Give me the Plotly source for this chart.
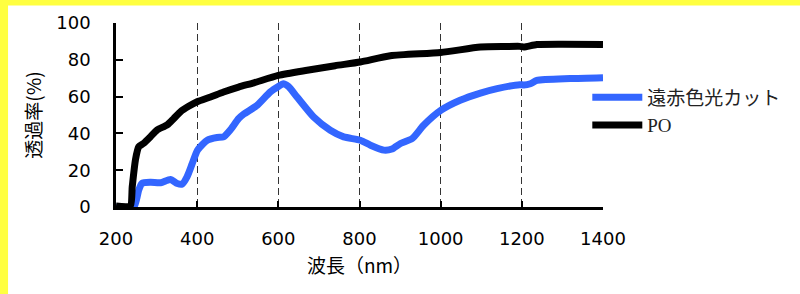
import plotly.graph_objects as go

# ---- data ----
wavelength_po = [200, 235, 240, 248, 256, 268, 285, 301, 326, 342, 359, 379, 400, 433, 465,
                 502, 540, 600, 671, 740, 802, 876, 1000, 1098, 1160, 1195, 1205, 1237, 1300, 1400]
po_values = [0.5, 0.5, 11, 25.7, 32.7, 34.6, 38.2, 41.8, 44.6, 48, 51.8, 54.7, 57.2, 59.8, 62.5,
             65.2, 67.5, 71.5, 74.3, 76.8, 78.8, 82.2, 84, 86.9, 87.2, 87.3, 86.9, 88.3, 88.5, 88.3]

wavelength_cut = [200, 244, 256, 264, 285, 310, 334, 351, 363, 375, 388, 401, 425, 449, 465,
                  482, 502, 515, 548, 580, 600, 612, 625, 646, 687, 728, 761, 802, 827, 860,
                  880, 901, 930, 958, 1001, 1048, 1098, 1139, 1195, 1205, 1221, 1237, 1319, 1400]
cut_values = [0, 0, 9.2, 12.8, 13.4, 13.2, 15, 12.8, 12.5, 16.4, 23.7, 30.9, 36.3, 37.8, 38.1,
              42, 48, 50.5, 55.3, 62.5, 65.5, 67, 65.5, 59.8, 48.9, 41.7, 38.1, 36.3, 33.6, 30.9,
              31.5, 34.5, 37.2, 44.4, 52.6, 58, 61.9, 64.3, 66.5, 66.3, 67, 68.8, 69.8, 70.3]

series_names = ["遠赤色光カット", "PO"]
x_ticks = [200, 400, 600, 800, 1000, 1200, 1400]
y_ticks = [0, 20, 40, 60, 80, 100]

fig = go.Figure()
fig.add_trace(go.Scatter(x=wavelength_cut, y=cut_values, mode="lines", name=series_names[0],
                         legendgroup="a", line=dict(color="#3366FF", width=7, shape="spline", smoothing=0.6)))
fig.add_trace(go.Scatter(x=wavelength_po, y=po_values, mode="lines", name=series_names[1],
                         legendgroup="b", line=dict(color="#000000", width=7, shape="spline", smoothing=0.6)))

sans = "DejaVu Sans, Noto Sans CJK JP, sans-serif"
cjk = "Noto Sans CJK JP, sans-serif"
L, R, T, B = 115.5, 602.7, 22.5, 207.0
W, H = 800, 294
pw, ph = R - L, B - T

def px2x(px):
    return (px - L) / pw

def py2y(py):
    return (B - py) / ph

fig.update_layout(
    width=W, height=H,
    margin=dict(l=L, r=W - R, t=T, b=H - B, pad=0, autoexpand=False),
    paper_bgcolor="white", plot_bgcolor="white",
    font=dict(family=sans, size=18, color="black"),
    showlegend=True,
    legend=dict(x=px2x(587), y=py2y(78), xanchor="left", yanchor="top",
                font=dict(family="Liberation Serif, Noto Sans CJK JP, serif", size=19, color="#222"),
                bgcolor="rgba(0,0,0,0)", traceorder="grouped", tracegroupgap=0, itemwidth=50),
    shapes=[
        dict(type="rect", xref="paper", yref="paper", x0=px2x(-5), x1=px2x(7.5), y0=py2y(300), y1=py2y(-5),
             fillcolor="#FFFF40", line=dict(width=0), layer="below"),
        dict(type="rect", xref="paper", yref="paper", x0=px2x(-5), x1=px2x(805), y0=py2y(5), y1=py2y(-5),
             fillcolor="#FFFF40", line=dict(width=0), layer="below"),
    ],
)

fig.update_xaxes(
    range=[200, 1400], tickvals=x_ticks, ticktext=[str(v) for v in x_ticks],
    showline=True, linecolor="black", linewidth=2.5, mirror=False,
    ticks="inside", ticklen=6, tickwidth=2, tickcolor="black",
    showgrid=True, gridcolor="#333", gridwidth=1, griddash="7px,4px",
    zeroline=False, ticklabelstandoff=14, automargin=False,
    tickfont=dict(family=sans, size=18, color="black"),
    title=dict(text="波長（nm）", font=dict(family=cjk, size=19, color="black"), standoff=12),
)
fig.update_yaxes(
    range=[0, 100], tickvals=y_ticks, ticktext=[str(v) for v in y_ticks],
    showline=True, linecolor="black", linewidth=2.5, mirror=False,
    ticks="inside", ticklen=7, tickwidth=2, tickcolor="black",
    showgrid=False, zeroline=False, ticklabelstandoff=19, automargin=False,
    tickfont=dict(family=sans, size=18, color="black"),
    title=dict(text="透過率(%)", font=dict(family=cjk, size=19, color="black"), standoff=10),
)

fig.write_html("out.html", config={"displayModeBar": False},
               post_script="document.body.style.margin='0';")
